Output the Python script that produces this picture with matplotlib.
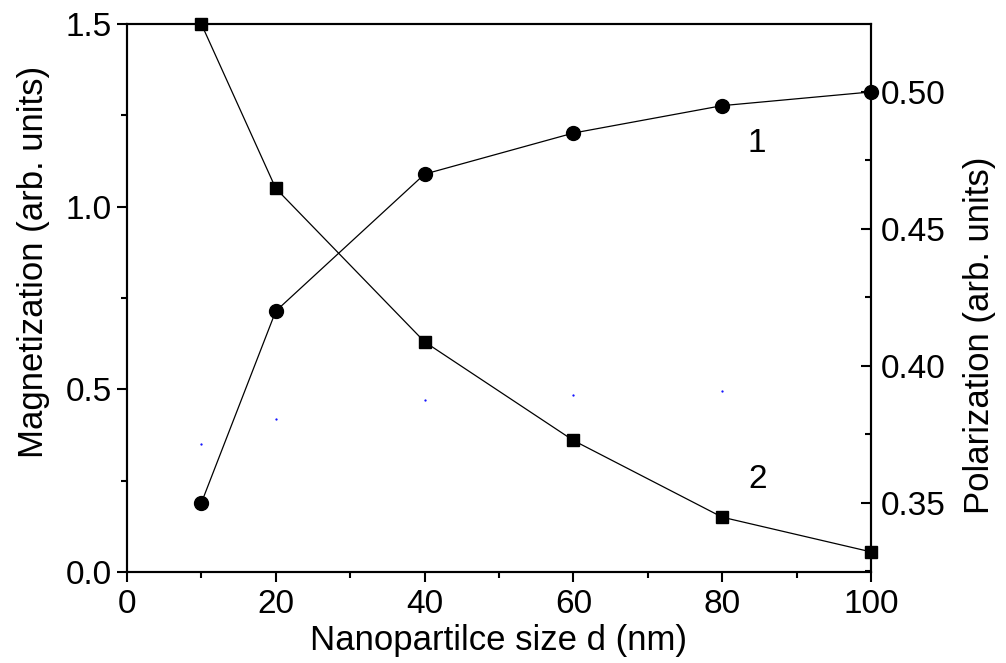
import matplotlib
matplotlib.use("Agg")
import matplotlib.pyplot as plt
from matplotlib.ticker import MultipleLocator, FormatStrFormatter

plt.rcParams['font.family'] = ['Liberation Sans', 'DejaVu Sans']

# data
size_d = [10, 20, 40, 60, 80, 100]
magnetization = [1.5, 1.05, 0.63, 0.36, 0.15, 0.055]      # curve 2, left axis
polarization = [0.35, 0.42, 0.47, 0.485, 0.495, 0.50]     # curve 1, right axis
stray_x = [10, 20, 40, 60, 80]                            # tiny blue dots
stray_y = [0.35, 0.42, 0.47, 0.485, 0.495]

fig = plt.figure(figsize=(10.06, 6.63), dpi=100)
ax = fig.add_axes([0.1262, 0.1373, 0.7396, 0.8265])
ax2 = ax.twinx()

ax.plot(size_d, magnetization, color='black', lw=0.9, marker='s', ms=9,
        clip_on=False, zorder=3)
ax.plot(stray_x, stray_y, ls='none', marker='.', ms=1.2, color='blue')
ax2.plot(size_d, polarization, color='black', lw=0.9, marker='o', ms=10,
         clip_on=False, zorder=3)

ax.text(84.7, 1.174, '1', fontsize=24, ha='center', va='center')
ax.text(84.7, 0.252, '2', fontsize=24, ha='center', va='center')

ax.set_xlim(0, 100)
ax.set_ylim(0, 1.5)
ax2.set_ylim(0.3248, 0.5248)

ax.xaxis.set_major_locator(MultipleLocator(20))
ax.xaxis.set_minor_locator(MultipleLocator(10))
ax.yaxis.set_major_locator(MultipleLocator(0.5))
ax.yaxis.set_minor_locator(MultipleLocator(0.25))
ax.yaxis.set_major_formatter(FormatStrFormatter('%.1f'))
ax2.yaxis.set_major_locator(MultipleLocator(0.05))
ax2.yaxis.set_minor_locator(MultipleLocator(0.025))
ax2.yaxis.set_major_formatter(FormatStrFormatter('%.2f'))

for a in (ax, ax2):
    for s in a.spines.values():
        s.set_linewidth(1.5)
ax.tick_params(which='major', direction='out', length=7, width=1.5, labelsize=24)
ax.tick_params(which='minor', direction='out', length=4, width=1.5)
ax.tick_params(axis='x', pad=5)
ax.tick_params(axis='y', pad=4)
ax2.tick_params(which='major', direction='in', length=7, width=1.5, labelsize=24, pad=7)
ax2.tick_params(which='minor', direction='in', length=4, width=1.5)

ax.set_xlabel('Nanopartilce size d (nm)', fontsize=25, labelpad=3)
fig.text(0.033, 0.605, 'Magnetization (arb. units)', fontsize=25,
         rotation=90, ha='center', va='center')
fig.text(0.974, 0.495, 'Polarization (arb. units)', fontsize=25,
         rotation=90, ha='center', va='center')

fig.savefig('out.png', dpi=100)
